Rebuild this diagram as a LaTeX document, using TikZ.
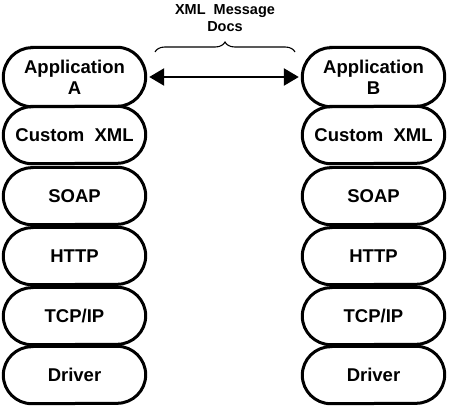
\documentclass[tikz,border=0pt]{standalone}
\usepackage{fontspec}
\setmainfont{Liberation Sans}
\usetikzlibrary{arrows.meta,decorations.pathreplacing}

\begin{document}
\begin{tikzpicture}[
  x=1pt, y=1pt,
  font=\bfseries\fontsize{18.5}{21}\selectfont,
  layer/.style={minimum width=145pt, minimum height=57pt, inner sep=0pt,
                align=center},
  pill/.style={draw=black, line width=3pt},
  msg/.style={{Triangle[length=15pt,width=17pt]}-{Triangle[length=15pt,width=17pt]},
              line width=2.5pt, shorten <=2pt, shorten >=2pt},
  brc/.style={decorate, decoration={brace, amplitude=10pt}, line width=1.1pt},
  lab/.style={font=\bfseries\fontsize{14.5}{17}\selectfont, align=center},
]
\useasboundingbox (0,0) rectangle (450,408);
% left stack
\node[layer, minimum height=59pt] (appA) at (74.5, 331) {Application\\A};
\node[layer] (xmlA) at (74.5, 273) {Custom\ \ XML};
\node[layer] (soapA) at (74.5, 212) {SOAP};
\node[layer] (httpA) at (74.5, 152) {HTTP};
\node[layer] (tcpA) at (74.5, 92) {TCP/IP};
\node[layer] (drvA) at (74.5, 33) {Driver};
% right stack
\node[layer, minimum height=59pt] (appB) at (373.5, 331) {Application\\B};
\node[layer] (xmlB) at (373.5, 273) {Custom\ \ XML};
\node[layer] (soapB) at (373.5, 212) {SOAP};
\node[layer] (httpB) at (373.5, 152) {HTTP};
\node[layer] (tcpB) at (373.5, 92) {TCP/IP};
\node[layer] (drvB) at (373.5, 33) {Driver};
% pill outlines
\foreach \n/\r in {appA/29.5, xmlA/28.5, soapA/28.5, httpA/28.5, tcpA/28.5, drvA/28.5,
                   appB/29.5, xmlB/28.5, soapB/28.5, httpB/28.5, tcpB/28.5, drvB/28.5}
  \draw[pill] ([xshift=30pt]\n.north west) -- ([xshift=-30pt]\n.north east)
    arc[start angle=90, end angle=-90, x radius=28.5pt, y radius=\r pt]
    -- ([xshift=30pt]\n.south west)
    arc[start angle=270, end angle=90, x radius=28.5pt, y radius=\r pt] -- cycle;
% message exchange
\draw[msg] (appA.east) -- (appB.west);
\coordinate (brL) at (155, 356);
\coordinate (brR) at (295, 356);
\draw[brc] (brL) -- (brR);
\node[lab] (docs) at (225, 390) {XML\ \ Message\\Docs};
\end{tikzpicture}
\end{document}
